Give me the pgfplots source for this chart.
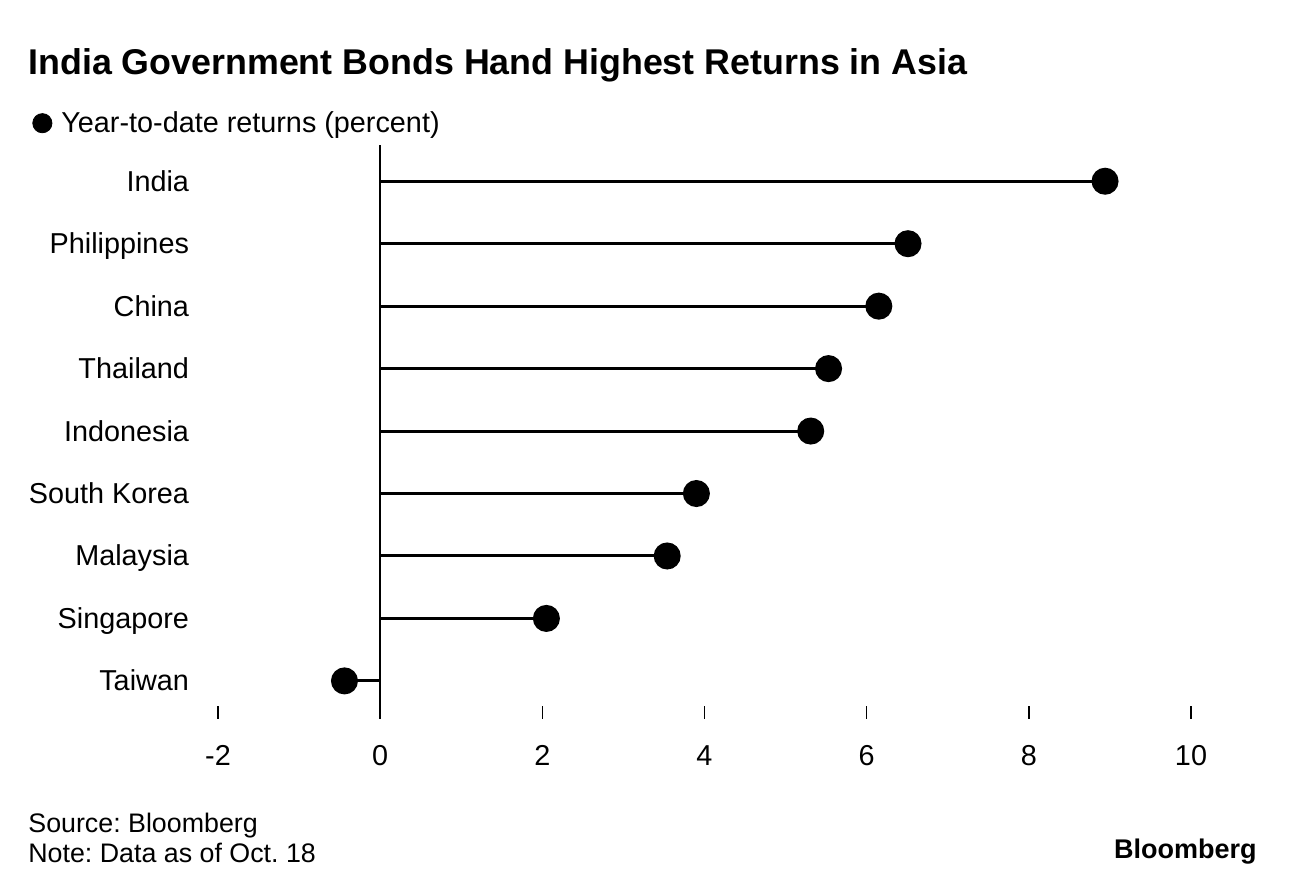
\documentclass[border=0pt]{standalone}
\usepackage{pgfplots}
\pgfplotsset{compat=1.18}
\usepackage{fontspec}
\setmainfont{Liberation Sans}
\frenchspacing
\begin{document}
\begin{tikzpicture}
\useasboundingbox (0,0) rectangle (648bp,446bp);
\node[anchor=base west, inner sep=0pt, font=\fontsize{17.9bp}{20bp}\selectfont\bfseries] at (14bp,408.5bp) {India Government Bonds Hand Highest Returns in Asia};
\begin{axis}[
  at={(109bp,86.5bp)}, anchor=south west,
  scale only axis, width=486.5bp, height=287bp,
  xmin=-2, xmax=10, ymin=-0.61, ymax=8.58,
  axis line style={draw=none},
  xtick={-2,0,2,4,6,8,10},
  xticklabels={-2,0,2,4,6,8,10},
  xtick pos=bottom, tick align=inside,
  major tick length=6.5bp,
  xtick style={black, line width=0.8bp},
  ytick={0,...,8},
  yticklabels={Taiwan,Singapore,Malaysia,South Korea,Indonesia,Thailand,China,Philippines,India},
  ytick style={draw=none},
  ytick pos=left,
  tick label style={font=\fontsize{14.4bp}{17bp}\selectfont},
  yticklabel style={anchor=base east, xshift=-11bp, yshift=-5bp},
  xticklabel style={yshift=-9.7bp},
  legend style={draw=none, fill=none, at={(axis description cs:-0.1912,1.038)}, anchor=west,
    font=\fontsize{14.4bp}{17bp}\selectfont, inner sep=0pt, legend cell align=left},
  legend image code/.code={\fill[black] (0bp,0bp) circle (4.8bp); \path (7.3bp,0bp);},
  clip=false,
]
\addlegendimage{black}
\addlegendentry{Year-to-date returns (percent)}
\addplot[black, line width=1bp, forget plot] coordinates {(0,-0.61) (0,8.58)};
\addplot[xcomb, black, line width=1.5bp, mark=*, mark size=6bp, forget plot] coordinates {
(-0.44,0)
(2.05,1)
(3.54,2)
(3.90,3)
(5.31,4)
(5.53,5)
(6.15,6)
(6.51,7)
(8.94,8)
};
\end{axis}
\node[anchor=base west, inner sep=0pt, font=\fontsize{13.4bp}{16bp}\selectfont] at (14bp,30bp) {Source: Bloomberg};
\node[anchor=base west, inner sep=0pt, font=\fontsize{13.4bp}{16bp}\selectfont] at (14bp,15bp) {Note: Data as of Oct. 18};
\node[anchor=base east, inner sep=0pt, font=\fontsize{13.5bp}{16bp}\selectfont\bfseries] at (628.5bp,17bp) {Bloomberg};
\end{tikzpicture}
\end{document}
